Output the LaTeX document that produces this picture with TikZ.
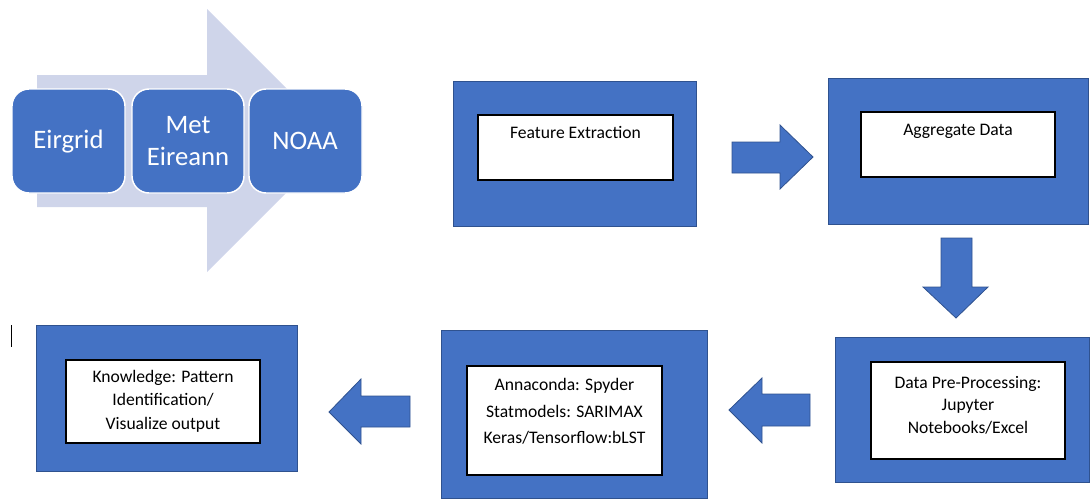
\documentclass[tikz,border=0pt]{standalone}
\usepackage{fontspec}
\setmainfont{Carlito}
\usetikzlibrary{fit}
\definecolor{offblue}{HTML}{4472C4}
\definecolor{offedge}{HTML}{2F528F}
\definecolor{lightarrow}{HTML}{CFD5EA}
\begin{document}
\begin{tikzpicture}[x=0.75pt,y=-0.75pt,
  outerbox/.style={draw=offedge, line width=0.6pt, fill=offblue, inner sep=0pt},
  innerbox/.style={draw=black, line width=0.9pt, fill=white, inner sep=0pt},
  srcbox/.style={draw=white, line width=1.1pt, fill=offblue, rounded corners=12.75pt, inner sep=0pt},
  srctext/.style={text=white, font=\fontsize{20}{24}\selectfont, inner sep=0pt, anchor=base},
  boxtext/.style={text=black, align=center, inner sep=0pt},
  blockarrow/.style={draw=offedge, line width=0.6pt, fill=offblue, line join=miter},
]
\path[use as bounding box] (0,0) rectangle (1092,500);

% background flow arrow
\fill[lightarrow] (37,75) -- (207,75) -- (207,9) -- (338.5,140.5) -- (207,272) -- (207,207) -- (37,207) -- cycle;

% sources
\node[srcbox, fit={(12,89) (125,193)}] (eirgrid) {};
\node[srcbox, fit={(132,89) (244,193)}] (met) {};
\node[srcbox, fit={(249,89) (362,193)}] (noaa) {};
\node[srctext] (eirgridtext) at (68.5,148) {Eirgrid};
\node[srctext] (mettext1) at (188,133) {Met};
\node[srctext] (mettext2) at (188,165) {Eireann};
\node[srctext] (noaatext) at (305,149) {NOAA};

% step boxes
\node[outerbox, fit={(453,81) (696,226)}] (b1) {};
\node[innerbox, fit={(478,115) (673,180)}] (i1) {};
\node[boxtext, font=\fontsize{13.2}{17}\selectfont] (t1) at (575.5,132) {Feature Extraction};

\node[outerbox, fit={(828,78) (1088,224)}] (b2) {};
\node[innerbox, fit={(861,112) (1055,177)}] (i2) {};
\node[boxtext, font=\fontsize{13.2}{17}\selectfont] (t2) at (958,131) {Aggregate Data};

\node[outerbox, fit={(835,337) (1089,482)}] (b3) {};
\node[innerbox, fit={(871,362) (1065,459)}] (i3) {};
\node[boxtext, font=\fontsize{13.2}{16.9}\selectfont] (t3) at (968,405) {Data Pre-Processing:\\Jupyter\\Notebooks/Excel};

\node[outerbox, fit={(441,330) (707,498)}] (b4) {};
\node[innerbox, fit={(467,366) (662,475)}] (i4) {};
\node[boxtext, font=\fontsize{13.2}{19.9}\selectfont] (t4) at (564.5,411.5) {Annaconda: Spyder\\Statmodels: SARIMAX\\Keras/Tensorflow:bLST};

\node[outerbox, fit={(36,325) (297,471)}] (b5) {};
\node[innerbox, fit={(66,360) (260,443)}] (i5) {};
\node[boxtext, font=\fontsize{13.2}{17.6}\selectfont] (t5) at (163,401) {Knowledge: Pattern\\Identification/\\Visualize output};

% block arrows
\draw[blockarrow] (732,142) -- (780,142) -- (780,125) -- (813,157) -- (780,189) -- (780,173) -- (732,173) -- cycle;
\draw[blockarrow] (941,238) -- (972,238) -- (972,287) -- (988,287) -- (956,318) -- (923,287) -- (941,287) -- cycle;
\draw[blockarrow] (810,394) -- (762,394) -- (762,378) -- (729,410) -- (762,443) -- (762,426) -- (810,426) -- cycle;
\draw[blockarrow] (410,396) -- (361,396) -- (361,379) -- (329,412) -- (361,444) -- (361,427) -- (410,427) -- cycle;

% text cursor mark
\draw[line width=0.75pt] (11,325) -- (11,347);
\end{tikzpicture}
\end{document}
